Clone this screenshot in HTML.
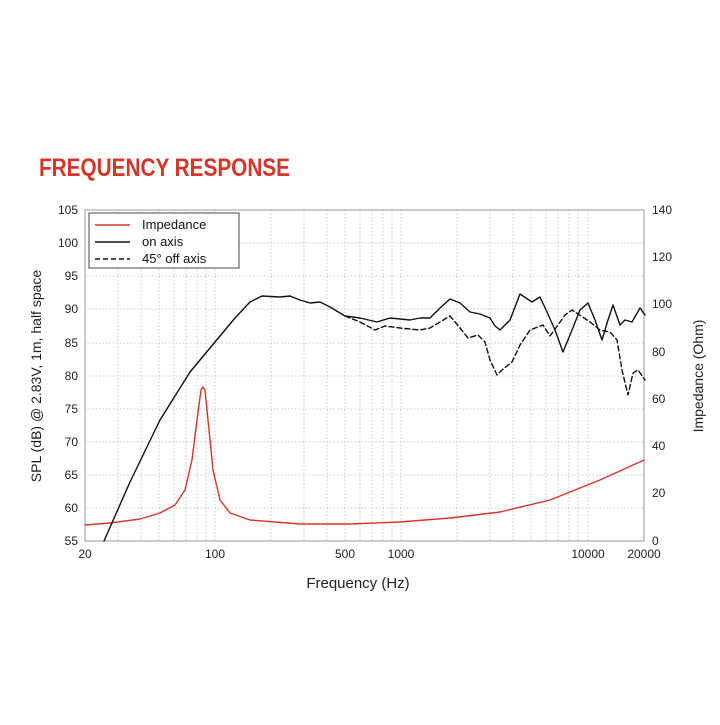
<!DOCTYPE html>
<html><head><style>body{margin:0;background:#fff}</style></head><body>
<svg width="720" height="720" xmlns="http://www.w3.org/2000/svg" font-family="Liberation Sans, sans-serif">
<rect width="720" height="720" fill="#fff"/>
<text x="39" y="176" font-size="25" font-weight="bold" fill="#d8352a" textLength="251" lengthAdjust="spacingAndGlyphs">FREQUENCY RESPONSE</text>
<g stroke="#bbb" stroke-width="0.8" stroke-dasharray="1.5,2">
<path d="M85 243H644M85 276H644M85 309H644M85 343H644M85 376H644M85 409H644M85 442H644M85 475H644M85 508H644"/>
<path d="M118 210V541M141 210V541M159 210V541M174 210V541M186 210V541M197 210V541M206 210V541M215 210V541M271 210V541M304 210V541M327 210V541M345 210V541M360 210V541M372 210V541M383 210V541M392 210V541M401 210V541M457 210V541M490 210V541M513 210V541M531 210V541M546 210V541M558 210V541M569 210V541M578 210V541M588 210V541"/>
</g>
<rect x="85" y="210" width="559" height="331" fill="none" stroke="#999" stroke-width="1"/>
<g font-size="12" fill="#222" text-anchor="end">
<text x="78" y="214">105</text><text x="78" y="247">100</text><text x="78" y="280">95</text><text x="78" y="313">90</text><text x="78" y="347">85</text><text x="78" y="380">80</text><text x="78" y="413">75</text><text x="78" y="446">70</text><text x="78" y="479">65</text><text x="78" y="512">60</text><text x="78" y="545">55</text>
</g>
<g font-size="12" fill="#222">
<text x="652" y="214">140</text><text x="652" y="261">120</text><text x="652" y="308">100</text><text x="652" y="356">80</text><text x="652" y="403">60</text><text x="652" y="450">40</text><text x="652" y="497">20</text><text x="652" y="545">0</text>
</g>
<g font-size="12" fill="#222" text-anchor="middle">
<text x="85" y="558">20</text><text x="215" y="558">100</text><text x="345" y="558">500</text><text x="401" y="558">1000</text><text x="588" y="558">10000</text><text x="644" y="558">20000</text>
</g>
<text x="358" y="588" font-size="15" fill="#222" text-anchor="middle">Frequency (Hz)</text>
<text transform="translate(41,376) rotate(-90)" font-size="14" fill="#222" text-anchor="middle">SPL (dB) @ 2.83V, 1m, half space</text>
<text transform="translate(703,376) rotate(-90)" font-size="14" fill="#222" text-anchor="middle">Impedance (Ohm)</text>
<g fill="none" stroke-linejoin="round" stroke-linecap="round">
<path stroke="#d8352a" stroke-width="1.4" d="M85 525L110 523L140 519L160 513L175 505L185 490L192 460L197 420L201 390L203 387L205 390L208 420L213 470L220 500L230 513L250 520L300 524L350 524L400 522L450 518L500 512L550 500L600 480L644 460"/>
<path stroke="#111" stroke-width="1.4" d="M104 541L130 482L160 420L190 372L215 342L235 318L250 302L262 296L280 297L290 296L300 300L310 303L320 302L330 307L345 316L360 318L377 322L390 318L410 320L420 318L430 318L440 308L450 299L460 303L470 312L480 314L490 318L495 326L500 330L510 320L520 294L532 302L540 297L547 312L555 330L563 352L570 335L580 310L588 303L595 320L602 340L608 320L613 305L620 325L625 320L632 322L640 308L645 315"/>
<path stroke="#111" stroke-width="1.4" stroke-dasharray="5,3" d="M345 316L360 322L375 330L385 326L400 328L420 330L430 328L440 322L450 316L460 328L468 338L478 335L485 342L490 360L497 375L502 370L512 362L520 345L530 330L543 325L550 336L558 325L565 315L572 310L590 322L600 330L610 332L617 340L622 370L628 395L633 373L638 370L645 380"/>
</g>
<rect x="89" y="213" width="150" height="55" fill="#fff" stroke="#444" stroke-width="1"/>
<g font-size="13" fill="#111">
<line x1="95" y1="225" x2="130" y2="225" stroke="#d8352a" stroke-width="1.4"/><text x="142" y="229">Impedance</text>
<line x1="95" y1="242" x2="130" y2="242" stroke="#111" stroke-width="1.4"/><text x="142" y="246">on axis</text>
<line x1="95" y1="259" x2="130" y2="259" stroke="#111" stroke-width="1.4" stroke-dasharray="5,3"/><text x="142" y="263">45° off axis</text>
</g>
</svg>
</body></html>
